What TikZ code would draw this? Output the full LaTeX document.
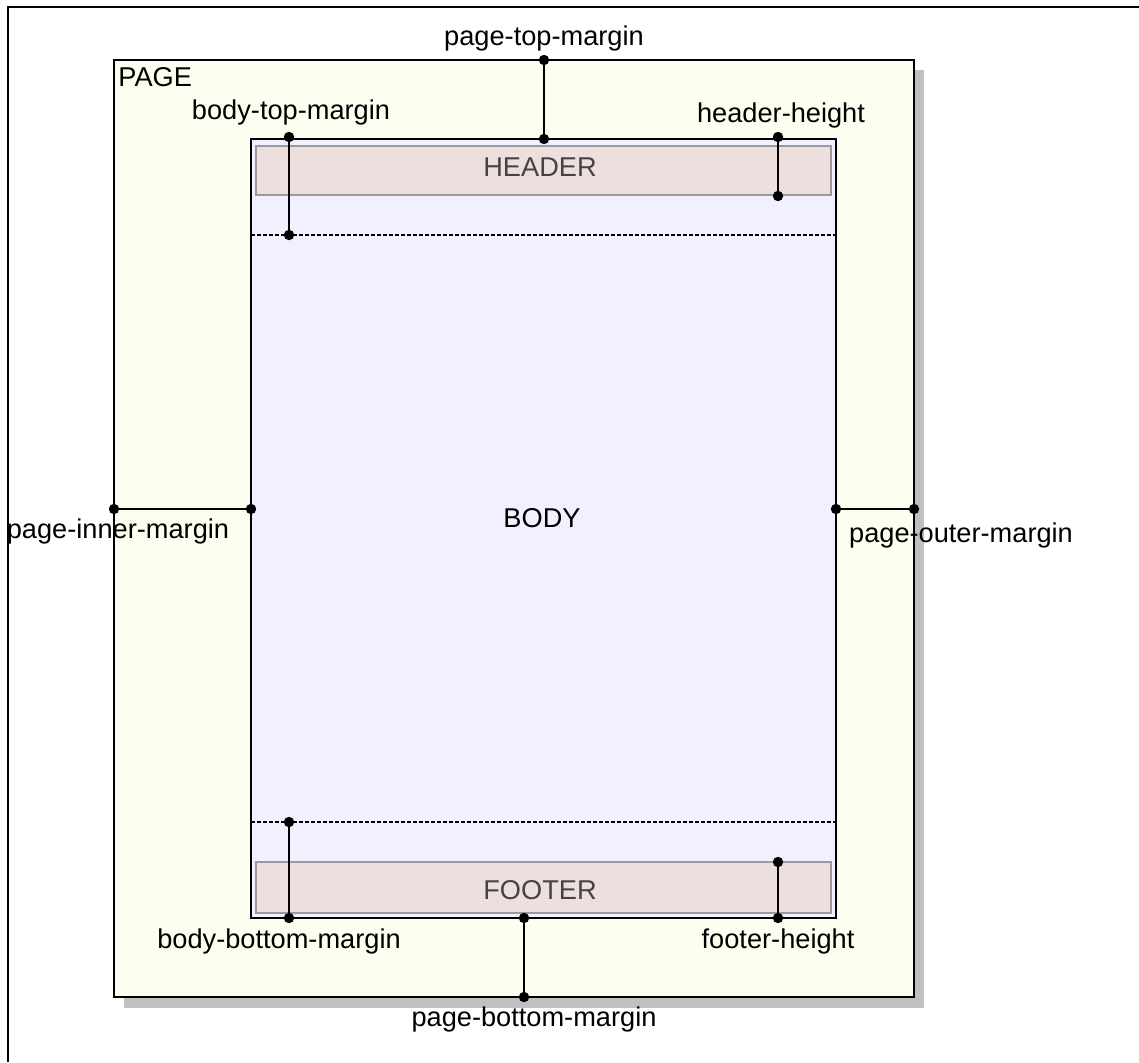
\documentclass[tikz,border=0pt]{standalone}
\usepackage{fontspec}
\setmainfont{Liberation Sans}

\definecolor{pagefill}{HTML}{FEFEF0}
\definecolor{bodyfill}{HTML}{F0F0FE}
\definecolor{bandfill}{HTML}{EEDFDF}
\definecolor{bandline}{HTML}{9A9A9A}
\definecolor{shadowgray}{HTML}{C0C0C0}
\definecolor{bandtext}{HTML}{444444}

\tikzset{
  dimline/.style={line width=1.2pt},
  dimlabel/.style={font=\fontsize{13.6}{16}\selectfont, inner sep=0pt},
  band/.style={fill=bandfill, draw=bandline, line width=0.9pt},
  bandlabel/.style={dimlabel, text=bandtext},
  guide/.style={line width=0.6pt, dash pattern=on 2pt off 1pt}
}

\begin{document}
\begin{tikzpicture}[x=0.5pt, y=-0.5pt]
  \useasboundingbox (0,0) rectangle (1139,1062);
  % frame
  \draw[line width=1.2pt] (8,1062) -- (8,7) -- (1139,7);
  % page and shadow
  \fill[shadowgray] (124,70) rectangle (924,1008);
  \filldraw[fill=pagefill, line width=1.2pt] (114,60) rectangle (914,997);
  \node[dimlabel, anchor=north west] (page) at (118,67) {PAGE};
  % body, header, footer
  \filldraw[fill=bodyfill, line width=1.1pt] (251,139) rectangle (836,918);
  \filldraw[band] (256,146) rectangle (831,195);
  \filldraw[band] (256,862) rectangle (831,913);
  \draw[guide] (251,235) -- (836,235);
  \draw[guide] (251,822) -- (836,822);
  \node[bandlabel] (header) at (540,167) {HEADER};
  \node[dimlabel] (body) at (542,518) {BODY};
  \node[bandlabel] (footer) at (540,890) {FOOTER};

  % dimension ends
  \coordinate (ptm-a) at (544,60);  \coordinate (ptm-b) at (544,139);
  \coordinate (btm-a) at (289,137); \coordinate (btm-b) at (289,235);
  \coordinate (hh-a)  at (778,137); \coordinate (hh-b)  at (778,196);
  \coordinate (pim-a) at (114,509); \coordinate (pim-b) at (251,509);
  \coordinate (pom-a) at (836,509); \coordinate (pom-b) at (914,509);
  \coordinate (bbm-a) at (289,822); \coordinate (bbm-b) at (289,918);
  \coordinate (pbm-a) at (524,918); \coordinate (pbm-b) at (524,997);
  \coordinate (fh-a)  at (778,862); \coordinate (fh-b)  at (778,918);
  \foreach \a/\b in {ptm-a/ptm-b, btm-a/btm-b, hh-a/hh-b, pim-a/pim-b,
                     pom-a/pom-b, bbm-a/bbm-b, pbm-a/pbm-b, fh-a/fh-b} {
    \draw[dimline] (\a) -- (\b);
    \fill (\a) circle (2.6pt);
    \fill (\b) circle (2.6pt);
  }

  % dimension labels
  \node[dimlabel] (ptm) at (544,38)  {page-top-margin};
  \node[dimlabel] (btm) at (291,112) {body-top-margin};
  \node[dimlabel] (hh)  at (781,115) {header-height};
  \node[dimlabel] (pim) at (118,531) {page-inner-margin};
  \node[dimlabel] (pom) at (961,535) {page-outer-margin};
  \node[dimlabel] (bbm) at (279,941) {body-bottom-margin};
  \node[dimlabel] (pbm) at (534,1019) {page-bottom-margin};
  \node[dimlabel] (fh)  at (778,941) {footer-height};
\end{tikzpicture}
\end{document}
